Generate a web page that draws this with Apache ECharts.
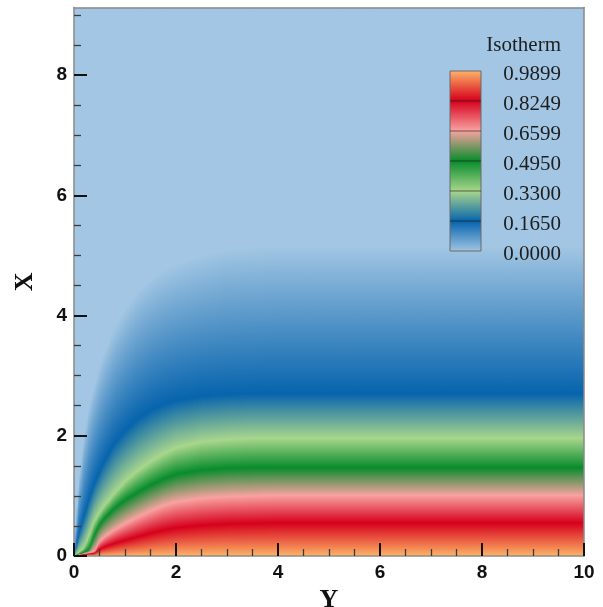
<!DOCTYPE html>
<html>
<head>
<meta charset="utf-8">
<script src="https://cdn.jsdelivr.net/npm/echarts@6/dist/echarts.min.js"></script>
<style>
  html, body { margin: 0; padding: 0; background: #ffffff; }
  #chart { width: 603px; height: 607px; }
</style>
</head>
<body>
<div id="chart"></div>
<script>
// Stations along Y where the isotherm positions (in X) were measured
const yStations   = [0, 0.05, 0.1, 0.2, 0.3, 0.4, 0.5, 0.6, 0.8, 1.0, 1.25, 1.5, 1.75, 2.0, 2.5, 3.0, 3.5, 4.0, 10];
// X position of each isotherm at those stations
const contour0825 = [0, 0.010, 0.015, 0.025, 0.035, 0.045, 0.11, 0.15, 0.21, 0.26, 0.32, 0.38, 0.43, 0.47, 0.51, 0.535, 0.545, 0.55, 0.55];
const contour0660 = [0, 0.015, 0.025, 0.040, 0.055, 0.070, 0.24, 0.32, 0.44, 0.54, 0.65, 0.75, 0.84, 0.90, 0.96, 0.99, 1.00, 1.01, 1.01];
const contour0495 = [0, 0.020, 0.030, 0.060, 0.100, 0.350, 0.52, 0.63, 0.80, 0.93, 1.06, 1.18, 1.28, 1.36, 1.43, 1.46, 1.47, 1.47, 1.47];
const contour0330 = [0, 0.030, 0.060, 0.140, 0.350, 0.580, 0.72, 0.84, 1.05, 1.24, 1.42, 1.57, 1.70, 1.80, 1.90, 1.94, 1.96, 1.96, 1.96];
const contour0165 = [0, 0.180, 0.360, 0.660, 0.950, 1.200, 1.40, 1.58, 1.88, 2.08, 2.28, 2.42, 2.52, 2.59, 2.66, 2.69, 2.70, 2.70, 2.70];
const contour0000 = [0, 0.700, 1.300, 2.000, 2.500, 2.850, 3.15, 3.40, 3.80, 4.10, 4.40, 4.60, 4.75, 4.85, 5.00, 5.10, 5.13, 5.15, 5.15];

// Contour levels and legend labels
const levelValues = [0.0, 0.165, 0.33, 0.495, 0.6599, 0.8249, 0.9899];
const levelLabels = ['0.0000', '0.1650', '0.3300', '0.4950', '0.6599', '0.8249', '0.9899'];

// Axis ticks
const yTicks      = [0, 2, 4, 6, 8, 10];
const yMinorTicks = [0.5, 1, 1.5, 2.5, 3, 3.5, 4.5, 5, 5.5, 6.5, 7, 7.5, 8.5, 9, 9.5];
const xTicks      = [0, 2, 4, 6, 8];
const xMinorTicks = [0.5, 1, 1.5, 2.5, 3, 3.5, 4.5, 5, 5.5, 6.5, 7, 7.5, 8.5, 9];

const Y_MAX = 10;
const X_MAX = 9.125;
const COLUMN_STEP = 0.025;

// Colormap, one colour per level (0 → 0.99)
const levelColors = ['#a2c6e3', '#0764ad', '#a8d68c', '#088c2c', '#f8a2a0', '#d6001c', '#fdb567'];

function atStation(arr, y) {
  if (y <= yStations[0]) return arr[0];
  for (let i = 1; i < yStations.length; i++) {
    if (y <= yStations[i]) {
      const t = (y - yStations[i - 1]) / (yStations[i] - yStations[i - 1]);
      return arr[i - 1] + t * (arr[i] - arr[i - 1]);
    }
  }
  return arr[arr.length - 1];
}

// One column strip per Y interval
const columns = [];
for (let i = 0; i * COLUMN_STEP < Y_MAX - 1e-9; i++) {
  columns.push([i * COLUMN_STEP, Math.min((i + 1) * COLUMN_STEP, Y_MAX)]);
}

const chart = echarts.init(document.getElementById('chart'), null, { renderer: 'canvas' });

function renderColumn(params, api) {
  const y0 = api.value(0), y1 = api.value(1);
  const yc = (y0 + y1) / 2;
  const pBL = api.coord([y0, 0]);
  const pTR = api.coord([y1, X_MAX]);
  const profile = [
    [0, levelColors[6]],
    [atStation(contour0825, yc), levelColors[5]],
    [atStation(contour0660, yc), levelColors[4]],
    [atStation(contour0495, yc), levelColors[3]],
    [atStation(contour0330, yc), levelColors[2]],
    [atStation(contour0165, yc), levelColors[1]],
    [atStation(contour0000, yc), levelColors[0]],
    [X_MAX, levelColors[0]]
  ];
  let last = 0;
  const stops = profile.map(function (p) {
    const off = Math.min(1, Math.max(last, p[0] / X_MAX));
    last = off;
    return { offset: off, color: p[1] };
  });
  const grad = new echarts.graphic.LinearGradient(0, pBL[1], 0, pTR[1], stops, true);
  return {
    type: 'rect',
    shape: { x: pBL[0], y: pTR[1], width: pTR[0] - pBL[0] + 0.9, height: pBL[1] - pTR[1] },
    style: { fill: grad, stroke: null }
  };
}

const tickFont = { fontFamily: 'Liberation Sans', fontWeight: 'bold', fontSize: 19, color: '#111' };
const nameFont = { fontFamily: 'Liberation Serif', fontWeight: 'bold', fontSize: 26, color: '#111' };
const frameLine = { show: true, onZero: false, lineStyle: { color: '#8a8a8a', width: 1.5 } };

// Colour bar geometry
const bar = { x: 450, top: 71, bottom: 251, width: 31, labelRight: 561 };
const barH = bar.bottom - bar.top;
const graphics = [];
graphics.push({
  type: 'rect', z: 100,
  shape: { x: bar.x, y: bar.top, width: bar.width, height: barH },
  style: {
    fill: new echarts.graphic.LinearGradient(0, 1, 0, 0,
      levelColors.map(function (c, i) { return { offset: i / (levelColors.length - 1), color: c }; })),
    stroke: '#6b6b6b', lineWidth: 1
  }
});
levelValues.forEach(function (v, i) {
  const py = bar.bottom - (v / levelValues[levelValues.length - 1]) * barH;
  if (i > 0 && i < levelValues.length - 1) {
    graphics.push({
      type: 'line', z: 101,
      shape: { x1: bar.x, y1: py, x2: bar.x + bar.width, y2: py },
      style: { stroke: 'rgba(30,30,30,0.65)', lineWidth: 1 }
    });
  }
  graphics.push({
    type: 'text', z: 101, x: bar.labelRight, y: py + 3.5,
    style: { text: levelLabels[i], fontFamily: 'Liberation Serif', fontSize: 21,
             fill: '#1e1e1e', align: 'right', verticalAlign: 'middle' }
  });
});
graphics.push({
  type: 'text', z: 101, x: bar.labelRight, y: 45,
  style: { text: 'Isotherm', fontFamily: 'Liberation Serif', fontSize: 21,
           fill: '#1e1e1e', align: 'right', verticalAlign: 'middle' }
});

const option = {
  animation: false,
  backgroundColor: '#ffffff',
  grid: { left: 74, right: 19, top: 7.5, bottom: 51, containLabel: false, outerBoundsMode: 'none' },
  xAxis: [
    {
      type: 'value', min: 0, max: Y_MAX, position: 'bottom', z: 10,
      name: 'Y', nameLocation: 'middle', nameGap: 26, nameTextStyle: nameFont,
      axisLine: frameLine,
      axisTick: { show: true, inside: true, length: 13, customValues: yTicks,
                  lineStyle: { color: '#111', width: 2 } },
      axisLabel: Object.assign({ customValues: yTicks, margin: 7 }, tickFont),
      splitLine: { show: false }
    },
    {
      type: 'value', min: 0, max: Y_MAX, position: 'bottom', z: 10,
      axisLine: { show: false },
      axisTick: { show: true, inside: true, length: 7, customValues: yMinorTicks,
                  lineStyle: { color: '#3a3a3a', width: 1.3 } },
      axisLabel: { show: false }, splitLine: { show: false }
    },
    {
      type: 'value', min: 0, max: Y_MAX, position: 'top', z: 10,
      axisLine: frameLine, axisTick: { show: false }, axisLabel: { show: false },
      splitLine: { show: false }
    }
  ],
  yAxis: [
    {
      type: 'value', min: 0, max: X_MAX, position: 'left', z: 10,
      name: 'X', nameLocation: 'middle', nameGap: 36, nameTextStyle: nameFont,
      axisLine: frameLine,
      axisTick: { show: true, inside: true, length: 13, customValues: xTicks,
                  lineStyle: { color: '#111', width: 2 } },
      axisLabel: Object.assign({ customValues: xTicks, margin: 7 }, tickFont),
      splitLine: { show: false }
    },
    {
      type: 'value', min: 0, max: X_MAX, position: 'left', z: 10,
      axisLine: { show: false },
      axisTick: { show: true, inside: true, length: 7, customValues: xMinorTicks,
                  lineStyle: { color: '#3a3a3a', width: 1.3 } },
      axisLabel: { show: false }, splitLine: { show: false }
    },
    {
      type: 'value', min: 0, max: X_MAX, position: 'right', z: 10,
      axisLine: frameLine, axisTick: { show: false }, axisLabel: { show: false },
      splitLine: { show: false }
    }
  ],
  series: [
    {
      type: 'custom',
      xAxisIndex: 0, yAxisIndex: 0,
      clip: true, silent: true,
      renderItem: renderColumn,
      encode: { x: [0, 1], y: [] },
      data: columns
    }
  ],
  graphic: graphics
};

chart.setOption(option);
</script>
</body>
</html>
